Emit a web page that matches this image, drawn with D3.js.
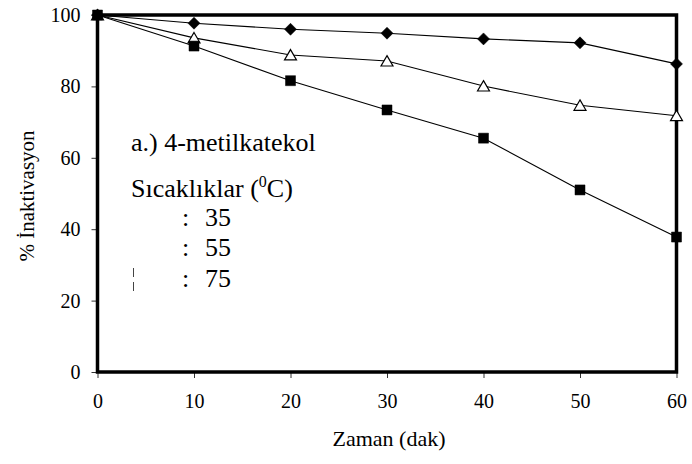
<!DOCTYPE html>
<html>
<head>
<meta charset="utf-8">
<script src="https://cdn.jsdelivr.net/npm/d3@7/dist/d3.min.js"></script>
<style>
  html, body { margin: 0; padding: 0; background: #fff; }
  svg text { font-family: 'Liberation Serif', 'Tinos', 'DejaVu Serif', serif; }
</style>
</head>
<body>
<svg id="chart" width="692" height="464"></svg>
<script>
// Time points (minutes)
const times = [0, 10, 20, 30, 40, 50, 60];
// % inactivation at each temperature
const inact35 = [100, 97.7, 96.0, 94.9, 93.3, 92.2, 86.3];
const inact55 = [100, 93.6, 88.8, 87.1, 80.1, 74.7, 71.8];
const inact75 = [100, 91.3, 81.6, 73.4, 65.5, 51.0, 37.8];
const xTicks = [0, 10, 20, 30, 40, 50, 60];
const yTicks = [0, 20, 40, 60, 80, 100];
const temps = ["35", "55", "75"];

const FONT = "'Liberation Serif', 'Tinos', 'DejaVu Serif', serif";
const svg = d3.select("#chart");
const plotLeft = 97.5, plotRight = 676.5, plotTop = 15, plotBottom = 372;

const x = d3.scaleLinear().domain([0, 60]).range([plotLeft, plotRight]);
const y = d3.scaleLinear().domain([0, 100]).range([plotBottom, plotTop]);

// axes
const yAxis = svg.append("g").attr("transform", `translate(${plotLeft},0)`)
  .call(d3.axisLeft(y).tickValues(yTicks).tickSize(6).tickPadding(11));
const xAxis = svg.append("g").attr("transform", `translate(0,${plotBottom})`)
  .call(d3.axisBottom(x).tickValues(xTicks).tickSize(6).tickPadding(16));
[yAxis, xAxis].forEach(g => {
  g.attr("font-family", FONT).attr("font-size", 20);
  g.select(".domain").remove();
  g.selectAll(".tick line").attr("stroke", "#333").attr("stroke-width", 1);
  g.selectAll(".tick text").attr("font-family", FONT)
    .attr("font-size", 20).attr("fill", "#000");
});

// plot frame
svg.append("rect")
  .attr("x", plotLeft).attr("y", plotTop)
  .attr("width", plotRight - plotLeft).attr("height", plotBottom - plotTop)
  .attr("fill", "none").attr("stroke", "#000").attr("stroke-width", 3.5);

const series = [
  { values: inact35, shape: "diamond" },
  { values: inact55, shape: "triangle" },
  { values: inact75, shape: "square" }
];

const line = d3.line().x(d => x(d[0])).y(d => y(d[1]));
series.forEach(s => {
  svg.append("path")
    .datum(times.map((t, i) => [t, s.values[i]]))
    .attr("d", line).attr("fill", "none")
    .attr("stroke", "#000").attr("stroke-width", 1.1);
});

const symbols = {
  diamond: d3.symbol().type(d3.symbolSquare).size(72),
  triangle: d3.symbol().type(d3.symbolTriangle).size(62),
  square: d3.symbol().type(d3.symbolSquare).size(100)
};

series.forEach(s => {
  const g = svg.append("g");
  g.selectAll("path")
    .data(times.map((t, i) => [t, s.values[i]]))
    .join("path")
    .attr("d", symbols[s.shape]())
    .attr("transform", d => {
      const rot = s.shape === "diamond" ? " rotate(45)" : "";
      const dy = s.shape === "triangle" ? 1.5 : 0;
      return `translate(${x(d[0])},${y(d[1]) + dy})${rot}`;
    })
    .attr("fill", s.shape === "triangle" ? "#fff" : "#000")
    .attr("stroke", "#000")
    .attr("stroke-width", s.shape === "triangle" ? 1.2 : 0.5);
});

// axis titles
svg.append("text")
  .attr("x", 389).attr("y", 446).attr("font-family", FONT)
  .attr("text-anchor", "middle").attr("font-size", 22)
  .text("Zaman (dak)");
svg.append("text")
  .attr("transform", "translate(34,196) rotate(-90)").attr("font-family", FONT)
  .attr("text-anchor", "middle").attr("font-size", 21)
  .text("% İnaktivasyon");

// annotation block
const ann = svg.append("g").attr("font-family", FONT).attr("font-size", 26);
ann.append("text").attr("x", 131).attr("y", 151).text("a.) 4-metilkatekol");
const t2 = ann.append("text").attr("x", 131).attr("y", 197);
t2.append("tspan").text("Sıcaklıklar (");
t2.append("tspan").attr("font-size", 16).attr("dy", -10).text("0");
t2.append("tspan").attr("dy", 10).text("C)");

const rowY = [226, 256, 287];
temps.forEach((t, i) => {
  ann.append("text").attr("x", 182).attr("y", rowY[i]).text(":");
  ann.append("text").attr("x", 205).attr("y", rowY[i]).text(t);
});
// broken line stub beside the last entry
svg.append("path")
  .attr("d", "M133.5,268V277M133.5,282V291")
  .attr("stroke", "#444").attr("stroke-width", 1);
</script>
</body>
</html>
